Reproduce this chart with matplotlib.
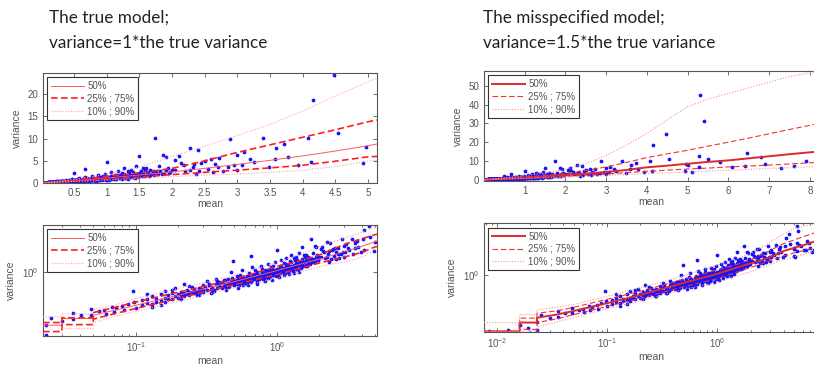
import matplotlib
matplotlib.use("Agg")
import matplotlib.pyplot as plt
import numpy as np
from matplotlib.ticker import LogLocator, NullFormatter, NullLocator, FixedLocator

# ---------------- data ----------------
mean_true = [
    0.023, 0.023, 0.025, 0.030, 0.036, 0.036, 0.041, 0.048, 0.048, 0.055,
    0.060, 0.062, 0.068, 0.070, 0.073, 0.080, 0.082, 0.088, 0.095, 0.097,
    0.10, 0.11, 0.11, 0.12, 0.12, 0.13, 0.13, 0.14, 0.14, 0.15, 0.15, 0.16, 0.16, 0.17, 0.17,
    0.18, 0.18, 0.19, 0.19, 0.20, 0.20, 0.21, 0.21, 0.22, 0.22, 0.23, 0.23, 0.24, 0.24, 0.25,
    0.25, 0.26, 0.26, 0.27, 0.27, 0.28, 0.28, 0.29, 0.29, 0.30, 0.30, 0.22, 0.16, 0.13, 0.27,
    0.31, 0.32, 0.33, 0.34, 0.35, 0.36, 0.37, 0.38, 0.39, 0.40, 0.41, 0.42, 0.43, 0.44, 0.45,
    0.45, 0.46, 0.47, 0.48, 0.49, 0.49, 0.50, 0.51, 0.52, 0.53, 0.54, 0.55, 0.56, 0.57, 0.58,
    0.59, 0.60, 0.61, 0.62, 0.63, 0.64, 0.65, 0.66, 0.66, 0.67, 0.68, 0.69, 0.70, 0.71, 0.72,
    0.73, 0.74, 0.75, 0.76, 0.77, 0.78, 0.79, 0.80, 0.81, 0.82, 0.83, 0.84, 0.85, 0.86, 0.87,
    0.88, 0.89, 0.90, 0.91, 0.92, 0.93, 0.94, 0.95, 0.96, 0.97, 0.98, 0.99, 1.00, 1.00, 0.38,
    0.44, 0.52, 0.58, 0.64, 0.72, 0.78, 0.86, 0.94, 0.35, 0.42, 0.55, 0.62, 0.70, 0.81, 0.90,
    1.02, 1.04, 1.06, 1.08, 1.10, 1.12, 1.14, 1.16, 1.18, 1.20, 1.22, 1.24, 1.26, 1.28, 1.30,
    1.32, 1.34, 1.36, 1.38, 1.40, 1.42, 1.44, 1.46, 1.48, 1.50, 1.52, 1.55, 1.58, 1.60, 1.63,
    1.66, 1.70, 1.74, 1.78, 1.82, 1.86, 1.88, 1.91, 1.94, 1.97,
    2.05, 2.10, 2.14, 2.20, 2.27, 2.28, 2.32, 2.36, 2.40, 2.42, 2.50, 2.55, 2.62, 2.65, 2.70,
    2.72, 2.78, 2.85, 2.88, 2.95, 2.99, 3.07, 3.10, 3.25, 3.40, 3.48, 3.58, 3.72, 3.77, 3.93,
    4.08, 4.13, 4.16, 4.48, 4.55, 4.93, 4.97, 2.18, 2.45, 2.60, 3.00, 3.20, 3.60, 2.33, 2.05,
    0.33, 0.36, 0.39, 0.41, 0.43, 0.46, 0.48, 0.50, 0.52, 0.54, 0.56, 0.58, 0.60, 0.62, 0.64,
    0.66, 0.68, 0.70, 0.72, 0.74, 0.76, 0.78, 0.80, 0.82, 0.84, 0.86, 0.88, 0.90, 0.92, 0.94,
    0.96, 0.98, 1.00, 1.02, 1.04, 1.06, 1.08, 1.10, 1.12, 1.14, 1.16, 1.18, 1.20, 1.22, 1.24,
    1.26, 1.28, 1.30, 1.32, 1.34, 1.36, 1.38, 1.40, 1.42, 1.44, 1.46, 1.48, 1.50, 1.52, 1.54,
    1.56, 1.58, 1.60, 1.62, 1.64, 1.66, 1.68, 1.72, 1.76, 1.80, 1.84, 1.90, 1.95, 2.00, 0.47,
    0.57, 0.67, 0.77, 0.87, 0.97, 1.07, 1.17, 1.27, 1.37, 0.53, 0.63, 0.73, 0.83, 0.93, 1.03,
    1.13, 1.23, 1.33, 1.43, 0.12, 0.15, 0.18, 0.21, 0.24, 0.28, 0.30, 0.32, 0.34, 0.37,
]
var_true = [
    0.013, 0.026, 0.042, 0.034, 0.060, 0.038, 0.052, 0.078, 0.050, 0.066,
    0.072, 0.055, 0.090, 0.062, 0.080, 0.095, 0.070, 0.110, 0.280, 0.130,
    0.085, 0.14, 0.10, 0.16, 0.12, 0.11, 0.19, 0.15, 0.13, 0.22, 0.14, 0.17, 0.13, 0.20, 0.16,
    0.24, 0.15, 0.19, 0.33, 0.22, 0.17, 0.26, 0.20, 0.24, 0.19, 0.30, 0.22, 0.26, 0.21, 0.36,
    0.25, 0.23, 0.30, 0.28, 0.24, 0.34, 0.27, 0.25, 0.31, 0.30, 0.42, 0.45, 0.28, 0.09, 0.20,
    0.35, 0.29, 0.40, 0.31, 0.36, 0.30, 0.45, 0.34, 0.41, 0.36, 0.50, 0.39, 0.44, 0.37, 0.62,
    0.46, 0.40, 0.52, 0.44, 2.2, 0.58, 0.47, 0.55, 0.45, 0.64, 0.52, 0.48, 0.70, 0.56, 0.50,
    0.66, 0.58, 0.52, 0.78, 0.62, 0.55, 0.70, 3.2, 0.64, 0.58, 0.85, 0.68, 0.62, 0.76, 0.66,
    1.0, 0.72, 0.64, 0.82, 0.74, 0.68, 0.95, 0.80, 0.72, 0.88, 1.2, 0.78, 0.92, 0.80, 1.05,
    0.86, 0.78, 1.0, 1.4, 0.90, 0.84, 1.1, 0.94, 0.86, 1.2, 1.0, 0.90, 4.7, 1.1, 0.55,
    0.30, 0.75, 0.40, 0.95, 0.52, 1.3, 0.65, 1.6, 0.25, 0.60, 0.85, 0.45, 1.15, 0.60, 1.25,
    1.2, 1.0, 1.5, 1.1, 1.3, 1.9, 1.2, 1.4, 1.1, 1.7, 1.3, 2.2, 1.5, 1.2, 1.6,
    2.8, 1.4, 1.9, 1.3, 2.4, 1.7, 3.9, 1.5, 2.0, 6.0, 1.8, 3.3, 1.6, 3.4, 2.3,
    1.9, 2.75, 10.1, 2.1, 2.6, 6.2, 2.2, 5.8, 3.4, 2.4,
    2.9, 6.0, 4.5, 2.8, 3.0, 8.0, 3.5, 2.0, 7.5, 2.6, 5.0, 3.1, 2.5, 4.2, 3.7,
    5.6, 2.8, 3.5, 10.0, 4.0, 6.2, 4.0, 7.0, 4.8, 10.2, 3.7, 5.5, 8.9, 5.9, 4.0,
    10.1, 4.75, 18.6, 24.4, 11.3, 4.4, 8.2, 4.0, 4.6, 5.5, 3.0, 5.5, 7.8, 4.3, 5.2,
    0.45, 0.28, 0.52, 0.33, 0.58, 0.35, 0.66, 0.40, 0.60, 0.42, 0.58, 0.72, 0.46, 0.68, 0.80,
    0.50, 0.74, 0.90, 0.58, 0.84, 0.66, 1.05, 0.62, 0.98, 0.70, 1.15, 0.74, 0.92, 1.30, 0.80,
    1.05, 0.76, 1.30, 0.88, 1.25, 0.92, 1.6, 1.0, 1.35, 0.98, 1.8, 1.25, 1.05, 1.55, 1.15,
    2.0, 1.4, 1.1, 1.7, 2.4, 1.25, 1.6, 1.9, 1.3, 2.1, 1.8, 1.35, 2.2, 2.6, 1.5,
    2.0, 2.9, 1.7, 2.4, 1.6, 3.0, 2.1, 1.8, 2.5, 3.8, 2.0, 2.9, 2.3, 3.0, 1.0,
    1.2, 1.4, 1.6, 1.8, 2.0, 2.4, 2.8, 3.4, 3.0, 0.33, 0.40, 0.45, 0.55, 0.60, 0.70,
    0.80, 0.90, 0.95, 1.05, 0.22, 0.10, 0.30, 0.15, 0.38, 0.20, 0.25, 0.55, 0.24, 0.62,
]

# extra points of the misspecified-model panel
mean_mis_extra = [0.0085, 0.0126, 0.016, 0.019, 5.30, 5.40, 5.28, 6.45, 5.00, 5.28,
                  6.10, 6.40, 6.90, 7.30, 7.60, 5.80, 6.80, 7.90, 5.50, 5.10]
var_mis_extra = [0.0125, 0.013, 0.020, 0.016, 45.2, 31.5, 12.7, 14.3, 7.7, 6.8,
                 7.0, 7.2, 8.3, 6.0, 7.3, 9.5, 12.0, 10.0, 10.8, 4.0]

# quantile curves, true model
q_mean_true = [0.022, 0.03, 0.03, 0.05, 0.05, 0.07, 0.1, 0.2, 0.3, 0.5, 1, 1.5, 2, 2.5, 3, 3.5, 4, 4.5, 5, 5.14]
q50_true = [0.025, 0.025, 0.040, 0.040, 0.050, 0.070, 0.10, 0.20, 0.31, 0.52, 1.12, 1.8, 2.5, 3.3, 4.2, 5.1, 6.1, 7.2, 8.4, 8.8]
q25_true = [0.016, 0.016, 0.026, 0.026, 0.038, 0.055, 0.08, 0.16, 0.25, 0.42, 0.85, 1.35, 1.9, 2.4, 2.9, 3.4, 4.0, 4.9, 5.9, 6.0]
q75_true = [0.030, 0.030, 0.042, 0.042, 0.060, 0.085, 0.125, 0.25, 0.37, 0.62, 1.5, 2.3, 3.3, 5.0, 6.9, 8.6, 10.3, 12.0, 13.8, 14.2]
q10_true = [0.011, 0.011, 0.020, 0.020, 0.030, 0.045, 0.065, 0.13, 0.20, 0.34, 0.65, 1.05, 1.45, 1.8, 2.0, 2.4, 2.9, 3.7, 4.9, 5.1]
q90_true = [0.045, 0.045, 0.055, 0.055, 0.075, 0.10, 0.16, 0.32, 0.48, 0.80, 2.0, 3.6, 6.0, 8.3, 10.7, 13.2, 16.2, 19.6, 22.8, 23.6]

# quantile curves, misspecified model
q_mean_mis = [0.0076, 0.016, 0.016, 0.023, 0.023, 0.035, 0.05, 0.1, 0.2, 0.5, 1, 1.5, 2, 2.5, 3,
              3.5, 4, 4.5, 5, 5.5, 6, 6.5, 7, 7.5, 8, 8.2]
q50_mis = [0.012, 0.012, 0.024, 0.024, 0.035, 0.045, 0.06, 0.11, 0.21, 0.55, 1.1, 1.8, 2.5, 3.2, 4.1,
           5.2, 6.6, 7.5, 8.5, 9.5, 10.3, 11.4, 12.5, 13.6, 14.6, 15.0]
q25_mis = [0.012, 0.012, 0.014, 0.014, 0.024, 0.032, 0.045, 0.085, 0.16, 0.40, 0.75, 1.25, 1.8, 2.4, 3.0,
           3.8, 4.5, 5.1, 5.7, 6.2, 6.8, 7.3, 7.8, 8.4, 9.0, 9.2]
q75_mis = [0.012, 0.012, 0.034, 0.034, 0.050, 0.060, 0.08, 0.15, 0.28, 0.72, 1.5, 2.3, 3.3, 4.9, 6.8,
           9.2, 11.8, 13.8, 15.7, 17.9, 20.0, 22.2, 24.5, 26.8, 29.0, 30.0]
q10_mis = [0.012, 0.012, 0.012, 0.012, 0.017, 0.025, 0.036, 0.07, 0.13, 0.33, 0.55, 0.95, 1.3, 1.8, 2.2,
           2.8, 3.3, 3.7, 4.2, 4.6, 5.0, 5.5, 6.0, 6.4, 6.8, 7.0]
q90_mis = [0.024, 0.024, 0.045, 0.045, 0.065, 0.080, 0.10, 0.19, 0.36, 0.95, 2.2, 3.6, 5.5, 8.5, 13.0,
           18.5, 24.7, 32.0, 39.0, 43.0, 46.0, 49.0, 52.0, 55.0, 57.0, 58.0]

titles = ["The true model;\nvariance=1*the true variance",
          "The misspecified model;\nvariance=1.5*the true variance"]
legend_labels = ["50%", "25% ; 75%", "10% ; 90%"]

# ---------------- figure ----------------
W, H = 814, 374
fig = plt.figure(figsize=(W / 100, H / 100), dpi=100)
plt.rcParams['font.family'] = ['Liberation Sans', 'DejaVu Sans']

def fpos(l, t, r, b):
    return [l / W, 1 - b / H, (r - l) / W, (b - t) / H]

TICK = '#555555'
SPINE = '#555555'

def style(ax):
    for s in ax.spines.values():
        s.set_color(SPINE)
        s.set_linewidth(0.8)
    ax.tick_params(which='both', direction='in', top=True, right=True,
                   colors=SPINE, labelcolor=TICK, labelsize=7, width=0.6)
    ax.tick_params(which='major', length=3)
    ax.tick_params(which='minor', length=1.5)
    ax.set_xlabel('mean', fontsize=7.5, color=TICK, labelpad=1)
    ax.set_ylabel('variance', fontsize=7.5, color=TICK, labelpad=4)

# style per panel: (color, lw, ls)
sty_true = {'50': ('#ff5a5a', 0.7, '-'), 'q': ('#ff1e1e', 1.2, (0, (4, 2))), 'd': ('#ffa0a0', 0.8, (0, (1, 1.5)))}
sty_mis = {'50': ('#e02828', 1.4, '-'), 'q': ('#ee3535', 0.8, (0, (5, 2.5))), 'd': ('#ff9090', 0.8, (0, (1, 1.5)))}

def draw(ax, mx, my, qx, q50, q25, q75, q10, q90, st, logscale):
    ax.plot(mx, my, linestyle='none', marker='.', markersize=3.4, color='#1414ff', zorder=2)
    c, lw, ls = st['50']
    h1, = ax.plot(qx, q50, color=c, lw=lw, ls=ls, zorder=3)
    c, lw, ls = st['q']
    h2, = ax.plot(qx, q25, color=c, lw=lw, ls=ls, zorder=3)
    ax.plot(qx, q75, color=c, lw=lw, ls=ls, zorder=3)
    c, lw, ls = st['d']
    h3, = ax.plot(qx, q10, color=c, lw=lw, ls=ls, zorder=3)
    ax.plot(qx, q90, color=c, lw=lw, ls=ls, zorder=3)
    if logscale:
        ax.set_xscale('log')
        ax.set_yscale('log')
    leg = ax.legend([h1, h2, h3], legend_labels, loc='upper left', fontsize=7,
                    handlelength=3.4, handletextpad=0.3, borderpad=0.4, labelspacing=0.25,
                    borderaxespad=0.45, fancybox=False, framealpha=1, edgecolor='#333333')
    leg.get_frame().set_linewidth(0.8)
    for t in leg.get_texts():
        t.set_color(TICK)
    style(ax)

mean_mis = mean_true + mean_mis_extra
var_mis = var_true + var_mis_extra

# top left
ax1 = fig.add_axes(fpos(43, 73, 377, 183))
draw(ax1, mean_true, var_true, q_mean_true, q50_true, q25_true, q75_true, q10_true, q90_true, sty_true, False)
ax1.set_xlim(0.022, 5.14)
ax1.set_ylim(0, 24.8)
ax1.set_xticks([0.5, 1, 1.5, 2, 2.5, 3, 3.5, 4, 4.5, 5])
ax1.set_xticklabels(['0.5', '1', '1.5', '2', '2.5', '3', '3.5', '4', '4.5', '5'])
ax1.set_yticks([0, 5, 10, 15, 20])

# top right
ax2 = fig.add_axes(fpos(484, 71, 818, 181))
draw(ax2, mean_mis, var_mis, q_mean_mis, q50_mis, q25_mis, q75_mis, q10_mis, q90_mis, sty_mis, False)
ax2.set_xlim(0.0, 8.2)
ax2.set_ylim(-0.7, 58)
ax2.set_xticks([1, 2, 3, 4, 5, 6, 7, 8])
ax2.set_yticks([0, 10, 20, 30, 40, 50])

# bottom left
ax3 = fig.add_axes(fpos(43, 225, 377, 335.7))
draw(ax3, mean_true, var_true, q_mean_true, q50_true, q25_true, q75_true, q10_true, q90_true, sty_true, True)
ax3.set_xlim(0.022, 5.14)
ax3.set_ylim(0.012, 27)

# bottom right
ax4 = fig.add_axes(fpos(484, 223.3, 818, 331.7))
draw(ax4, mean_mis, var_mis, q_mean_mis, q50_mis, q25_mis, q75_mis, q10_mis, q90_mis, sty_mis, True)
ax4.set_xlim(0.0076, 8.2)
ax4.set_ylim(0.0117, 58)

for ax in (ax3, ax4):
    ax.xaxis.set_major_locator(LogLocator(base=10, numticks=10))
    ax.xaxis.set_minor_locator(LogLocator(base=10, subs=np.arange(2, 10), numticks=20))
    ax.xaxis.set_minor_formatter(NullFormatter())
    ax.yaxis.set_major_locator(FixedLocator([1.0]))
    ax.yaxis.set_minor_locator(NullLocator())

# titles
for x0, txt in ((49, titles[0]), (483, titles[1])):
    l1, l2 = txt.split('\n')
    fig.text(x0 / W, 1 - 22.7 / H, l1, fontsize=12.3, family=['Lato', 'DejaVu Sans'], color='#222222', va='baseline')
    fig.text(x0 / W, 1 - 47.5 / H, l2, fontsize=12.3, family=['Lato', 'DejaVu Sans'], color='#222222', va='baseline')

fig.savefig('out.png', dpi=100)
